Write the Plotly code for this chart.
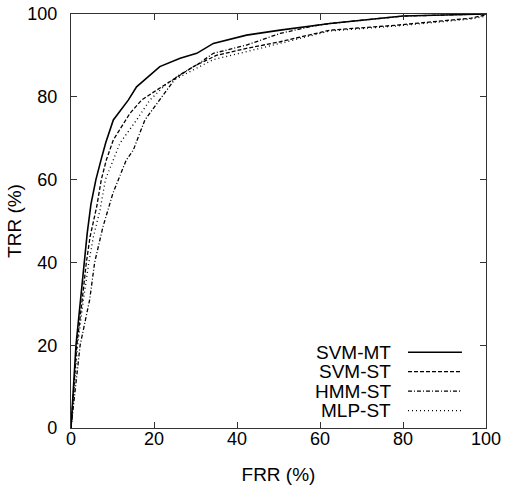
import plotly.graph_objects as go

# ---- data ----
svm_mt_frr = [0, 1.2, 2.3, 3.1, 3.9, 4.8, 6.0, 7.3, 8.4, 10.2, 13.8, 15.8, 21.4, 26.3, 30.3, 34.3, 42.3, 50.4, 62.4, 80, 90, 100]
svm_mt_trr = [0, 20, 31, 40, 47, 54, 60, 65, 69, 74.4, 79.2, 82.4, 87.3, 89.3, 90.5, 92.9, 94.9, 96.1, 97.7, 99.5, 99.8, 100]

svm_st_frr = [0, 1.4, 2.7, 3.7, 4.6, 6.2, 7.3, 8.5, 10.2, 14.2, 17.0, 20.6, 29.5, 35.0, 42.3, 50.4, 62.4, 78.5, 96.4, 100]
svm_st_trr = [0, 20, 31, 40, 46.2, 53.5, 60, 64.7, 69.6, 76.0, 79.2, 81.6, 87.3, 90.0, 91.7, 93.3, 96.1, 97.3, 99.0, 99.8]

hmm_st_frr = [0, 2.2, 4.5, 5.7, 7.7, 10.1, 13.3, 15.0, 17.8, 21.4, 25.5, 30.3, 34.3, 42.3, 50.4, 58.4, 62.4, 80, 100]
hmm_st_trr = [0, 20, 31, 40, 48.6, 56.7, 64.7, 67.1, 74.4, 79.2, 84.9, 87.7, 90.5, 92.5, 95.3, 97.1, 97.7, 99.5, 100]

mlp_st_frr = [0, 1.6, 3.0, 4.3, 5.4, 7.0, 8.3, 10.1, 11.8, 15.8, 19.0, 23.1, 27.9, 34.3, 42.3, 50.4, 62.4, 78.5, 96.4, 100]
mlp_st_trr = [0, 20, 31, 40, 46.2, 52.7, 60, 64.7, 68.8, 74.4, 79.2, 83.2, 85.7, 89.0, 90.9, 92.9, 95.9, 97.1, 98.8, 99.5]

names = ["SVM-MT", "SVM-ST", "HMM-ST", "MLP-ST"]
dashes = ["solid", "4px,2px", "4px,2px,1px,2px", "1px,3px"]
widths = [1.6, 1.3, 1.3, 1.3]
tick_vals = [0, 20, 40, 60, 80, 100]

series = [
    (svm_mt_frr, svm_mt_trr),
    (svm_st_frr, svm_st_trr),
    (hmm_st_frr, hmm_st_trr),
    (mlp_st_frr, mlp_st_trr),
]

FONT = "Liberation Sans, Arial, Helvetica, sans-serif"

fig = go.Figure()
for (x, y), n, d, w in zip(series, names, dashes, widths):
    fig.add_trace(go.Scatter(x=x, y=y, mode="lines", name=n,
                             line=dict(color="black", width=w, dash=d),
                             showlegend=False, hoverinfo="skip"))

# gnuplot-style legend: text on the left, line sample on the right
row_y = [0.183, 0.136, 0.089, 0.042]
for n, d, w, yy in zip(names, dashes, widths, row_y):
    fig.add_annotation(xref="paper", yref="paper", x=0.777, y=yy, text=n,
                       showarrow=False, xanchor="right", yanchor="middle",
                       font=dict(family=FONT, size=19, color="black"))
    fig.add_shape(type="line", xref="paper", yref="paper",
                  x0=0.812, x1=0.942, y0=yy, y1=yy,
                  line=dict(color="black", width=w, dash=d))

axis_common = dict(range=[0, 100], tickvals=tick_vals, ticks="inside", ticklen=6,
                   tickcolor="#333", linecolor="#333", linewidth=1.2, mirror="ticks",
                   showgrid=False, zeroline=False, automargin=False,
                   tickfont=dict(family=FONT, size=18, color="black"))

fig.update_layout(
    width=506, height=490,
    margin=dict(l=71, r=20, t=14, b=62),
    paper_bgcolor="white", plot_bgcolor="white",
    xaxis=dict(title=dict(text="FRR (%)", font=dict(family=FONT, size=19, color="black"), standoff=19),
               ticklabelstandoff=-6, **axis_common),
    yaxis=dict(title=dict(text="TRR (%)", font=dict(family=FONT, size=19, color="black"), standoff=0),
               ticklabelstandoff=9, **axis_common),
)

fig.write_html("out.html", config={"displayModeBar": False},
               post_script="document.body.style.margin='0';document.body.style.padding='0';")
